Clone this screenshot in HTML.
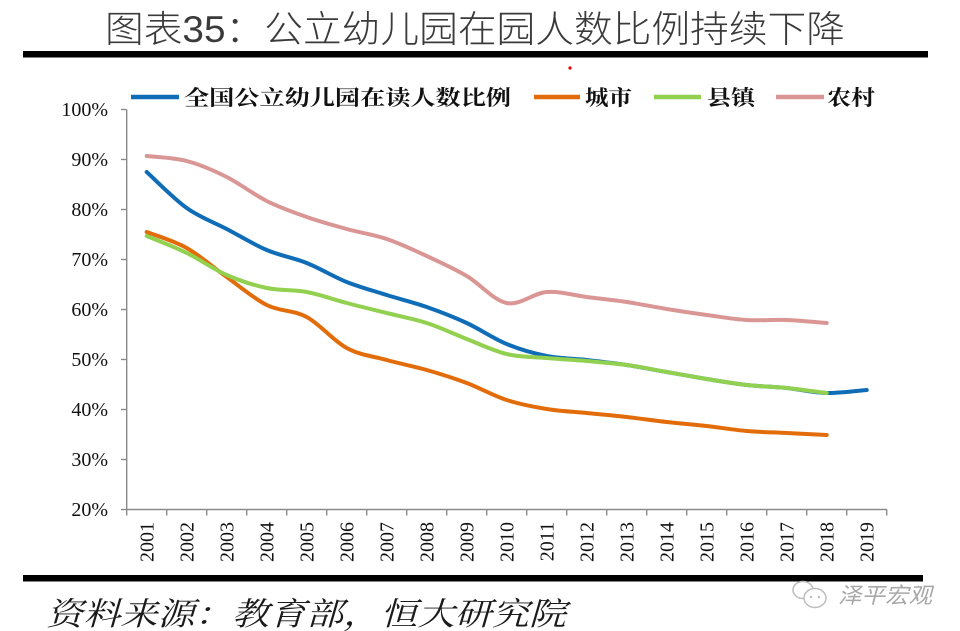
<!DOCTYPE html>
<html><head><meta charset="utf-8"><style>
html,body{margin:0;padding:0;background:#fff;}
svg{display:block;}
</style></head><body>
<svg width="960" height="631" viewBox="0 0 960 631" xmlns="http://www.w3.org/2000/svg">
<rect width="960" height="631" fill="#fff"/>
<text x="105" y="42" font-family="'Liberation Sans','Noto Sans CJK SC',sans-serif" font-size="37" font-weight="300" fill="#3a3a3a" textLength="740" lengthAdjust="spacingAndGlyphs">图表35：公立幼儿园在园人数比例持续下降</text>
<rect x="23" y="51" width="905" height="6.5" fill="#000"/>
<circle cx="570" cy="68" r="1.6" fill="#e00"/>

<!-- legend -->
<g font-family="'Liberation Serif','Noto Serif CJK SC','Noto Sans CJK SC',serif" font-size="21" font-weight="bold" fill="#111">
<line x1="131" y1="97" x2="179" y2="97" stroke="#0f6db8" stroke-width="4.5"/>
<text x="184" y="105" textLength="327" lengthAdjust="spacingAndGlyphs">全国公立幼儿园在读人数比例</text>
<line x1="534" y1="97" x2="580" y2="97" stroke="#e36c0a" stroke-width="4.5"/>
<text x="585" y="105" textLength="47" lengthAdjust="spacingAndGlyphs">城市</text>
<line x1="654" y1="97" x2="701" y2="97" stroke="#92d050" stroke-width="4.5"/>
<text x="707" y="105" textLength="48" lengthAdjust="spacingAndGlyphs">县镇</text>
<line x1="776" y1="97" x2="824" y2="97" stroke="#d99694" stroke-width="4.5"/>
<text x="827" y="105" textLength="48" lengthAdjust="spacingAndGlyphs">农村</text>
</g>

<!-- axes -->
<g stroke="#8a8a8a" stroke-width="1.4" fill="none">
<line x1="126.7" y1="109.5" x2="126.7" y2="510"/>
<line x1="126.7" y1="509.5" x2="887" y2="509.5"/>
<line x1="121" y1="109.5" x2="126.7" y2="109.5"/>
<line x1="121" y1="159.5" x2="126.7" y2="159.5"/>
<line x1="121" y1="209.5" x2="126.7" y2="209.5"/>
<line x1="121" y1="259.5" x2="126.7" y2="259.5"/>
<line x1="121" y1="309.5" x2="126.7" y2="309.5"/>
<line x1="121" y1="359.5" x2="126.7" y2="359.5"/>
<line x1="121" y1="409.5" x2="126.7" y2="409.5"/>
<line x1="121" y1="459.5" x2="126.7" y2="459.5"/>
<line x1="121" y1="509.5" x2="126.7" y2="509.5"/>
<path d="M126.7,509.5v6 M166.7,509.5v6 M206.7,509.5v6 M246.7,509.5v6 M286.7,509.5v6 M326.7,509.5v6 M366.7,509.5v6 M406.7,509.5v6 M446.7,509.5v6 M486.7,509.5v6 M526.7,509.5v6 M566.7,509.5v6 M606.7,509.5v6 M646.7,509.5v6 M686.7,509.5v6 M726.7,509.5v6 M766.7,509.5v6 M806.7,509.5v6 M846.7,509.5v6 M886.7,509.5v6"/>
</g>

<g font-family="'Liberation Serif',serif" font-size="20" fill="#111" text-anchor="end">
<text x="108" y="116">100%</text>
<text x="108" y="166">90%</text>
<text x="108" y="216">80%</text>
<text x="108" y="266">70%</text>
<text x="108" y="316">60%</text>
<text x="108" y="366">50%</text>
<text x="108" y="416">40%</text>
<text x="108" y="466">30%</text>
<text x="108" y="516">20%</text>
</g>

<g font-family="'Liberation Serif',serif" font-size="20" fill="#111" text-anchor="end">
<text transform="translate(146.7,522) rotate(-90)" dy="0.33em">2001</text>
<text transform="translate(186.7,522) rotate(-90)" dy="0.33em">2002</text>
<text transform="translate(226.7,522) rotate(-90)" dy="0.33em">2003</text>
<text transform="translate(266.7,522) rotate(-90)" dy="0.33em">2004</text>
<text transform="translate(306.7,522) rotate(-90)" dy="0.33em">2005</text>
<text transform="translate(346.7,522) rotate(-90)" dy="0.33em">2006</text>
<text transform="translate(386.7,522) rotate(-90)" dy="0.33em">2007</text>
<text transform="translate(426.7,522) rotate(-90)" dy="0.33em">2008</text>
<text transform="translate(466.7,522) rotate(-90)" dy="0.33em">2009</text>
<text transform="translate(506.7,522) rotate(-90)" dy="0.33em">2010</text>
<text transform="translate(546.7,522) rotate(-90)" dy="0.33em">2011</text>
<text transform="translate(586.7,522) rotate(-90)" dy="0.33em">2012</text>
<text transform="translate(626.7,522) rotate(-90)" dy="0.33em">2013</text>
<text transform="translate(666.7,522) rotate(-90)" dy="0.33em">2014</text>
<text transform="translate(706.7,522) rotate(-90)" dy="0.33em">2015</text>
<text transform="translate(746.7,522) rotate(-90)" dy="0.33em">2016</text>
<text transform="translate(786.7,522) rotate(-90)" dy="0.33em">2017</text>
<text transform="translate(826.7,522) rotate(-90)" dy="0.33em">2018</text>
<text transform="translate(866.7,522) rotate(-90)" dy="0.33em">2019</text>
</g>

<!-- series -->
<g fill="none" stroke-width="4" stroke-linecap="round" stroke-linejoin="round">
<path stroke="#0f6db8" d="M146.7,172 C153.4,178 173.4,198.5 186.7,208 S213.4,222 226.7,229 S253.4,244.3 266.7,250 S293.4,257.7 306.7,263 S333.4,276.7 346.7,282 S373.4,290.8 386.7,295 S413.4,302.3 426.7,307 S453.4,316.8 466.7,323 S493.4,338.5 506.7,344 S533.4,353.3 546.7,356 S573.4,358.5 586.7,360 S613.4,363 626.7,365 S653.4,369.7 666.7,372 S693.4,376.8 706.7,379 S733.4,383.5 746.7,385 S773.4,386.7 786.7,388 S813.4,392.7 826.7,393 S860,390.5 866.7,390"/>
<path stroke="#e36c0a" d="M146.7,232 C153.4,234.7 173.4,240.5 186.7,248 S213.4,267.5 226.7,277 S253.4,298.3 266.7,305 S293.4,309.8 306.7,317 S333.4,340.8 346.7,348 S373.4,356.3 386.7,360 S413.4,366.2 426.7,370 S453.4,378 466.7,383 S493.4,395.7 506.7,400 S533.4,406.8 546.7,409 S573.4,411.7 586.7,413 S613.4,415.5 626.7,417 S653.4,420.5 666.7,422 S693.4,424.5 706.7,426 S733.4,429.8 746.7,431 S773.4,432.3 786.7,433 S820,434.7 826.7,435"/>
<path stroke="#92d050" d="M146.7,236 C153.4,238.8 173.4,246.5 186.7,253 S213.4,269.2 226.7,275 S253.4,285.2 266.7,288 S293.4,289.5 306.7,292 S333.4,299.5 346.7,303 S373.4,309.7 386.7,313 S413.4,318.7 426.7,323 S453.4,333.8 466.7,339 S493.4,350.8 506.7,354 S533.4,356.8 546.7,358 S573.4,359.8 586.7,361 S613.4,363.2 626.7,365 S653.4,369.7 666.7,372 S693.4,376.8 706.7,379 S733.4,383.5 746.7,385 S773.4,386.7 786.7,388 S820,392.2 826.7,393"/>
<path stroke="#d99694" d="M146.7,156 C153.4,156.8 173.4,157.5 186.7,161 S213.4,170.3 226.7,177 S253.4,194.3 266.7,201 S293.4,212.3 306.7,217 S333.4,225.3 346.7,229 S373.4,234.5 386.7,239 S413.4,249.8 426.7,256 S453.4,268.2 466.7,276 S493.4,300.3 506.7,303 S533.4,293 546.7,292 S573.4,295.3 586.7,297 S613.4,300 626.7,302 S653.4,306.8 666.7,309 S693.4,313.2 706.7,315 S733.4,319.2 746.7,320 S773.4,319.5 786.7,320 S820,322.5 826.7,323"/>
</g>

<rect x="23" y="575" width="900" height="6.5" fill="#000"/>

<text x="46" y="625" font-family="'Liberation Serif','Noto Serif CJK SC','Noto Sans CJK SC',serif" font-size="32" font-style="italic" fill="#1a1a1a" textLength="520" lengthAdjust="spacingAndGlyphs">资料来源：教育部，恒大研究院</text>

<!-- watermark -->
<g stroke="#bdbdbd" stroke-width="1.5" fill="none">
<ellipse cx="803" cy="590" rx="10" ry="8.5"/>
<ellipse cx="815" cy="598" rx="11" ry="9.5" fill="#fff"/>
</g>
<circle cx="811" cy="597" r="1.2" fill="#bdbdbd"/>
<circle cx="819" cy="597" r="1.2" fill="#bdbdbd"/>
<text x="838" y="603" font-family="'Liberation Sans','Noto Sans CJK SC',sans-serif" font-size="22" font-style="italic" fill="#a8a8a8" textLength="94" lengthAdjust="spacingAndGlyphs">泽平宏观</text>
</svg>
</body></html>
